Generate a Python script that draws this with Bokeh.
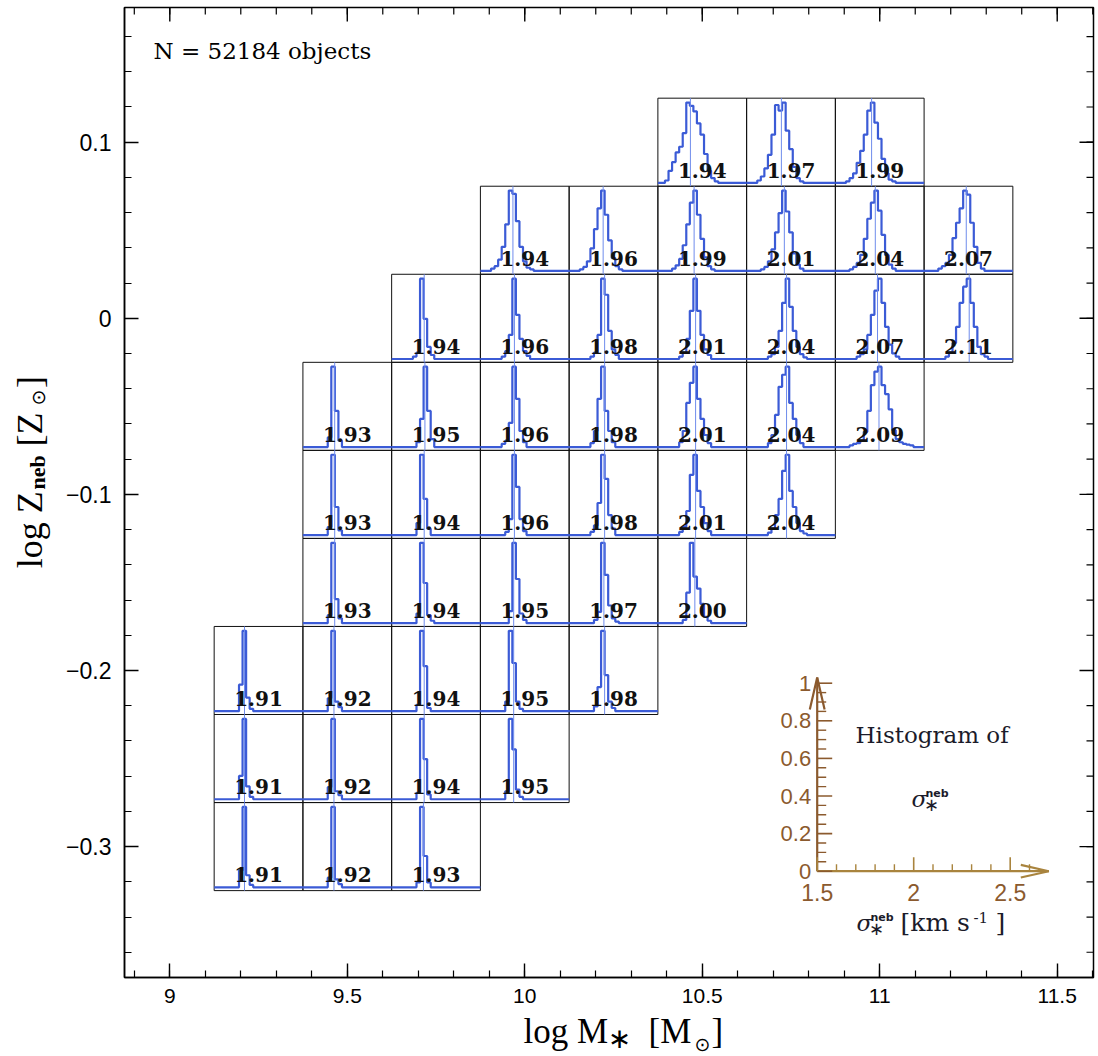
import numpy as np
from bokeh.plotting import figure
from bokeh.layouts import column, row
from bokeh.models import Range1d, FixedTicker, Label
from bokeh.embed import file_html
from bokeh.resources import INLINE
from bokeh.core.properties import value

# ---------------------------------------------------------------- data
# cell centres: stellar mass (log M*/Msun) and nebular metallicity (log Z/Zsun)
cell_logm = [
    9.25, 9.50, 9.75,
    9.25, 9.50, 9.75, 10.00,
    9.25, 9.50, 9.75, 10.00, 10.25,
    9.50, 9.75, 10.00, 10.25, 10.50,
    9.50, 9.75, 10.00, 10.25, 10.50, 10.75,
    9.50, 9.75, 10.00, 10.25, 10.50, 10.75, 11.00,
    9.75, 10.00, 10.25, 10.50, 10.75, 11.00, 11.25,
    10.00, 10.25, 10.50, 10.75, 11.00, 11.25,
    10.50, 10.75, 11.00,
]
cell_logz = [
    -0.30, -0.30, -0.30,
    -0.25, -0.25, -0.25, -0.25,
    -0.20, -0.20, -0.20, -0.20, -0.20,
    -0.15, -0.15, -0.15, -0.15, -0.15,
    -0.10, -0.10, -0.10, -0.10, -0.10, -0.10,
    -0.05, -0.05, -0.05, -0.05, -0.05, -0.05, -0.05,
    0.00, 0.00, 0.00, 0.00, 0.00, 0.00, 0.00,
    0.05, 0.05, 0.05, 0.05, 0.05, 0.05,
    0.10, 0.10, 0.10,
]
# median log sigma_*^neb of each cell (printed in the cell)
cell_median = [
    1.91, 1.92, 1.93,
    1.91, 1.92, 1.94, 1.95,
    1.91, 1.92, 1.94, 1.95, 1.98,
    1.93, 1.94, 1.95, 1.97, 2.00,
    1.93, 1.94, 1.96, 1.98, 2.01, 2.04,
    1.93, 1.95, 1.96, 1.98, 2.01, 2.04, 2.09,
    1.94, 1.96, 1.98, 2.01, 2.04, 2.07, 2.11,
    1.94, 1.96, 1.99, 2.01, 2.04, 2.07,
    1.94, 1.97, 1.99,
]
# histograms of log sigma (25 bins between 1.5 and 2.7), peak-normalised:
# index of first non-empty bin, then the bin heights
hist_first_bin = [
    7, 7, 7,
    7, 7, 7, 7,
    7, 7, 7, 7, 7,
    7, 7, 8, 7, 7,
    7, 7, 7, 6, 6, 6,
    7, 7, 6, 6, 6, 6, 4,
    6, 6, 6, 6, 6, 6, 6,
    3, 3, 4, 4, 4, 4,
    2, 3, 3,
]
hist_heights = [
    [0.21, 1.00, 0.15, 0.03],
    [0.12, 1.00, 0.10, 0.04],
    [0.06, 1.00, 0.39, 0.06],
    [0.29, 1.00, 0.16, 0.03],
    [0.15, 1.00, 0.10, 0.05],
    [0.08, 1.00, 0.50, 0.06],
    [0.10, 1.00, 0.62, 0.12, 0.03],
    [0.33, 1.00, 0.17, 0.03],
    [0.16, 1.00, 0.12, 0.05],
    [0.08, 1.00, 0.56, 0.04],
    [0.12, 1.00, 0.60, 0.12, 0.03],
    [0.06, 0.30, 1.00, 0.45, 0.12, 0.04],
    [0.10, 1.00, 0.30, 0.06],
    [0.12, 1.00, 0.50, 0.10, 0.03],
    [0.15, 1.00, 0.55, 0.12, 0.04],
    [0.04, 0.14, 1.00, 0.60, 0.22, 0.06, 0.02],
    [0.04, 0.38, 1.00, 0.58, 0.43, 0.24, 0.08, 0.03],
    [0.10, 1.00, 0.35, 0.06],
    [0.15, 1.00, 0.45, 0.08],
    [0.04, 0.20, 1.00, 0.60, 0.20, 0.05],
    [0.04, 0.12, 0.40, 1.00, 0.70, 0.25, 0.08],
    [0.04, 0.10, 0.30, 0.75, 1.00, 0.55, 0.35, 0.15, 0.05],
    [0.03, 0.08, 0.25, 0.45, 0.80, 1.00, 0.55, 0.35, 0.15, 0.05, 0.02],
    [0.12, 1.00, 0.45, 0.08],
    [0.06, 0.35, 1.00, 0.45, 0.10],
    [0.04, 0.08, 0.30, 1.00, 0.60, 0.20, 0.06],
    [0.05, 0.20, 0.60, 1.00, 0.45, 0.20, 0.06],
    [0.06, 0.20, 0.55, 0.80, 1.00, 0.60, 0.35, 0.15, 0.05],
    [0.05, 0.15, 0.40, 0.75, 0.90, 1.00, 0.55, 0.35, 0.15, 0.05],
    [0.02, 0.04, 0.05, 0.08, 0.19, 0.45, 0.77, 0.94, 1.00, 0.77, 0.66, 0.47, 0.21, 0.10, 0.06, 0.04, 0.03, 0.02],
    [0.03, 0.08, 1.00, 0.50, 0.15, 0.05],
    [0.03, 0.10, 0.30, 1.00, 0.55, 0.25, 0.10, 0.04],
    [0.03, 0.08, 0.30, 1.00, 0.80, 0.35, 0.12, 0.05],
    [0.03, 0.08, 0.25, 0.60, 1.00, 0.60, 0.30, 0.12, 0.05],
    [0.03, 0.06, 0.15, 0.35, 0.70, 1.00, 0.65, 0.35, 0.15, 0.06, 0.02],
    [0.03, 0.06, 0.12, 0.30, 0.55, 0.85, 1.00, 0.70, 0.40, 0.18, 0.07, 0.03],
    [0.03, 0.08, 0.20, 0.40, 0.70, 0.90, 1.00, 0.70, 0.40, 0.15, 0.06, 0.03],
    [0.03, 0.06, 0.14, 0.30, 0.58, 1.00, 0.96, 0.62, 0.30, 0.12, 0.04, 0.02],
    [0.02, 0.05, 0.12, 0.28, 0.52, 0.78, 1.00, 0.70, 0.38, 0.16, 0.06, 0.02],
    [0.03, 0.07, 0.15, 0.32, 0.58, 0.85, 1.00, 0.70, 0.40, 0.17, 0.06, 0.02],
    [0.02, 0.05, 0.12, 0.27, 0.48, 0.72, 1.00, 0.74, 0.48, 0.22, 0.08, 0.03],
    [0.02, 0.05, 0.10, 0.20, 0.40, 0.65, 0.85, 1.00, 0.75, 0.45, 0.20, 0.08, 0.03],
    [0.03, 0.06, 0.10, 0.20, 0.41, 0.60, 0.78, 1.00, 0.95, 0.60, 0.30, 0.10, 0.03],
    [0.03, 0.15, 0.26, 0.38, 0.45, 0.62, 1.00, 0.96, 0.89, 0.74, 0.60, 0.36, 0.15, 0.06, 0.02],
    [0.03, 0.08, 0.18, 0.35, 0.60, 0.97, 0.90, 1.00, 0.65, 0.42, 0.20, 0.06, 0.02],
    [0.02, 0.06, 0.12, 0.25, 0.40, 0.60, 0.90, 1.00, 0.75, 0.55, 0.30, 0.12, 0.04, 0.02],
]
SIG_MIN, SIG_MAX, N_BINS = 1.5, 2.7, 25
N_OBJECTS = 52184

x_major = [9.0, 9.5, 10.0, 10.5, 11.0, 11.5]
x_major_labels = ["9", "9.5", "10", "10.5", "11", "11.5"]
x_minor = [round(8.9 + 0.1 * i, 2) for i in range(28)]
y_major = [-0.3, -0.2, -0.1, 0.0, 0.1]
y_major_labels = ["\u22120.3", "\u22120.2", "\u22120.1", "0", "0.1"]
y_minor = [round(-0.36 + 0.02 * i, 3) for i in range(28)]

inset_y_major = [0.0, 0.2, 0.4, 0.6, 0.8, 1.0]
inset_y_labels = ["0", "0.2", "0.4", "0.6", "0.8", "1"]
inset_y_minor = [round(0.05 * i, 2) for i in range(21) if i % 4 != 0]
inset_x_major = [1.5, 2.0, 2.5]
inset_x_labels = ["1.5", "2", "2.5"]
inset_x_minor = [round(1.5 + 0.1 * i, 2) for i in range(12) if i % 5 != 0]

# ---------------------------------------------------------------- layout (page pixels)
TOTAL_W, TOTAL_H = 1097, 1055
LEFT_W = 52                      # strip holding the rotated y title
MAIN_W, MAIN_H = TOTAL_W - LEFT_W, 1012
FRAME_L, FRAME_R, FRAME_T, FRAME_B = 124.0, 1093.0, 7.0, 977.0

X_LO, X_HI = 8.8724, 11.6022
Y_LO, Y_HI = -0.37434, 0.17649
PXX = (FRAME_R - FRAME_L) / (X_HI - X_LO)
PXY = (FRAME_B - FRAME_T) / (Y_HI - Y_LO)
MID = 0.34                       # text box middle above baseline, in em


def X(px):
    return X_LO + (px - FRAME_L) / PXX


def Y(py):
    return Y_HI - (py - FRAME_T) / PXY


CELL_W, CELL_H = 0.25, 0.05
BASE_F, PEAK_F = 0.0375, 0.9125      # histogram baseline / height inside a cell

BLUE = "#3b5bd6"
MED_BLUE = "#6f8cec"
BROWN = "#8b5a2e"
GOLD = "#a9843e"
INK = "#1b1b2a"

SERIF = "Liberation Serif"
DSERIF = "DejaVu Serif"
SANS = "Liberation Sans"
DSANS = "DejaVu Sans"

p = figure(width=MAIN_W, height=MAIN_H,
           x_range=Range1d(X_LO, X_HI), y_range=Range1d(Y_LO, Y_HI),
           output_backend="svg", toolbar_location=None,
           min_border_left=int(FRAME_L - LEFT_W), min_border_right=int(TOTAL_W - FRAME_R),
           min_border_top=int(FRAME_T), min_border_bottom=int(MAIN_H - FRAME_B))
p.grid.visible = False
p.outline_line_color = "black"
p.outline_line_width = 1.5
p.background_fill_color = "white"
p.border_fill_color = "white"

p.xaxis.ticker = FixedTicker(ticks=x_major, minor_ticks=x_minor)
p.yaxis.ticker = FixedTicker(ticks=y_major, minor_ticks=y_minor)
for ax in (p.xaxis[0], p.yaxis[0]):
    ax.axis_line_color = "black"
    ax.axis_line_width = 1.5
    ax.major_tick_in = 14
    ax.major_tick_out = 0
    ax.minor_tick_in = 7
    ax.minor_tick_out = 0
    ax.major_tick_line_color = "black"
    ax.major_tick_line_width = 1.4
    ax.minor_tick_line_color = "black"
    ax.minor_tick_line_width = 1.2
    ax.major_label_text_font = SANS
    ax.major_label_text_color = "black"
p.xaxis.major_label_text_font_size = "21px"
p.yaxis.major_label_text_font_size = "23px"
p.xaxis.major_label_overrides = dict(zip(x_major, x_major_labels))
p.yaxis.major_label_overrides = dict(zip(y_major, y_major_labels))
p.xaxis.major_label_standoff = 11
p.yaxis.major_label_standoff = 13

# mirrored ticks on the top and right frame edges
p.segment(x0=x_major, y0=[Y_HI] * len(x_major), x1=x_major,
          y1=[Y_HI - 14 / PXY] * len(x_major), line_color="black", line_width=1.4)
p.segment(x0=x_minor, y0=[Y_HI] * len(x_minor), x1=x_minor,
          y1=[Y_HI - 7 / PXY] * len(x_minor), line_color="black", line_width=1.2)
p.segment(x0=[X_HI] * len(y_major), y0=y_major, x1=[X_HI - 14 / PXX] * len(y_major),
          y1=y_major, line_color="black", line_width=1.4)
p.segment(x0=[X_HI] * len(y_minor), y0=y_minor, x1=[X_HI - 7 / PXX] * len(y_minor),
          y1=y_minor, line_color="black", line_width=1.2)

# ---------------------------------------------------------------- cells
edges = np.linspace(SIG_MIN, SIG_MAX, N_BINS + 1)
xs_all, ys_all = [], []
for cx, cy, k0, hv in zip(cell_logm, cell_logz, hist_first_bin, hist_heights):
    h = np.zeros(N_BINS)
    h[k0:k0 + len(hv)] = hv
    ex = cx - CELL_W / 2 + (edges - SIG_MIN) / (SIG_MAX - SIG_MIN) * CELL_W
    px = np.repeat(ex, 2)[1:-1]
    py = np.repeat(h, 2)
    xs_all.append(list(px))
    ys_all.append(list(cy - CELL_H / 2 + CELL_H * (BASE_F + PEAK_F * py)))

p.rect(x=cell_logm, y=cell_logz, width=CELL_W, height=CELL_H,
       fill_alpha=0, line_color="#111111", line_width=1)
p.multi_line(xs_all, ys_all, line_color=BLUE, line_width=2.2)

med_x = [cx - CELL_W / 2 + (m - SIG_MIN) / (SIG_MAX - SIG_MIN) * CELL_W
         for cx, m in zip(cell_logm, cell_median)]
p.segment(x0=med_x, y0=[cy - CELL_H / 2 for cy in cell_logz],
          x1=med_x, y1=[cy + CELL_H / 2 for cy in cell_logz],
          line_color=MED_BLUE, line_width=1)

NUM_FS = 20
p.text(x=cell_logm, y=[cy - CELL_H / 2 + (9 + MID * NUM_FS) / PXY for cy in cell_logz],
       text=["%.2f" % m for m in cell_median],
       text_font=value(DSERIF), text_font_style="bold", text_font_size="%dpx" % NUM_FS,
       text_align="center", text_baseline="middle", text_color="#111111")

# ---------------------------------------------------------------- inset key
INSET_X0, INSET_Y0 = X(816.7), Y(870.7)
INSET_SX = 193 / PXX
INSET_SY = 188 / PXY


def ix(s):
    return INSET_X0 + (s - SIG_MIN) * INSET_SX


def iy(v):
    return INSET_Y0 + v * INSET_SY


ax0, ay0 = ix(SIG_MIN), iy(0.0)
ytip, xtip = iy(1.03), ix(SIG_MAX)
p.line([ax0, ax0], [ay0, ytip], line_color=BROWN, line_width=2.2)
p.line([ax0, xtip], [ay0, ay0], line_color=GOLD, line_width=2.2)
p.multi_line([[ax0 - 7.4 / PXX, ax0, ax0 + 7.4 / PXX]],
             [[ytip - 32 / PXY, ytip, ytip - 32 / PXY]], line_color=BROWN, line_width=2.2)
p.multi_line([[xtip - 28 / PXX, xtip, xtip - 28 / PXX]],
             [[ay0 + 6.3 / PXY, ay0, ay0 - 6.3 / PXY]], line_color=GOLD, line_width=2.2)

p.segment(x0=[ax0] * len(inset_y_major), y0=[iy(v) for v in inset_y_major],
          x1=[ax0 + 15 / PXX] * len(inset_y_major), y1=[iy(v) for v in inset_y_major],
          line_color=BROWN, line_width=1.6)
p.segment(x0=[ax0] * len(inset_y_minor), y0=[iy(v) for v in inset_y_minor],
          x1=[ax0 + 9 / PXX] * len(inset_y_minor), y1=[iy(v) for v in inset_y_minor],
          line_color=BROWN, line_width=1.4)
p.segment(x0=[ix(s) for s in inset_x_major], y0=[ay0] * len(inset_x_major),
          x1=[ix(s) for s in inset_x_major], y1=[ay0 + 14 / PXY] * len(inset_x_major),
          line_color=GOLD, line_width=1.6)
p.segment(x0=[ix(s) for s in inset_x_minor], y0=[ay0] * len(inset_x_minor),
          x1=[ix(s) for s in inset_x_minor], y1=[ay0 + 7 / PXY] * len(inset_x_minor),
          line_color=GOLD, line_width=1.4)

p.text(x=[ax0 - 6 / PXX] * len(inset_y_major), y=[iy(v) for v in inset_y_major],
       text=inset_y_labels, text_font=value(SANS), text_font_size="22px",
       text_color=BROWN, text_align="right", text_baseline="middle")
p.text(x=[ix(s) for s in inset_x_major], y=[ay0 - 13 / PXY] * len(inset_x_major),
       text=inset_x_labels, text_font=value(SANS), text_font_size="23px",
       text_color=BROWN, text_align="center", text_baseline="top")


def lab(px, base_py, text, size, font=SERIF, style="normal", color=INK, align="left"):
    """label whose baseline sits at page pixel base_py"""
    p.add_layout(Label(x=X(px), y=Y(base_py - MID * size), text=text, text_font=font,
                       text_font_size="%dpx" % size, text_font_style=style,
                       text_color=color, text_align=align, text_baseline="middle"))


def sym(px, py, text, size, color=INK):
    """symbol centred on page pixel (px, py)"""
    p.add_layout(Label(x=X(px), y=Y(py), text=text, text_font=DSANS,
                       text_font_size="%dpx" % size, text_color=color,
                       text_align="center", text_baseline="middle"))


lab(855, 742, "Histogram of", 23, font=DSERIF)
lab(911, 806, "\u03c3", 23, font=DSERIF, style="italic")
lab(925, 797, "neb", 11, font=DSANS, style="bold")
sym(931, 804, "\u2217", 18)
lab(856, 930, "\u03c3", 23, font=DSERIF, style="italic")
lab(870, 921, "neb", 11, font=DSANS, style="bold")
sym(876, 928, "\u2217", 18)
lab(900, 930, "[km s", 25, font=DSERIF)
lab(973, 922, "-1", 15, font=DSERIF)
lab(995, 930, "]", 25, font=DSERIF)

lab(153, 58, "N = %d objects" % N_OBJECTS, 23, font=DSERIF, color="black")

# ---------------------------------------------------------------- axis titles
def strip(w, h, x0, y0):
    f = figure(width=w, height=h, x_range=Range1d(x0, x0 + w),
               y_range=Range1d(y0 + h, y0),              # y grows downward = page pixels
               x_axis_type=None, y_axis_type=None, min_border=0,
               output_backend="svg", toolbar_location=None)
    f.outline_line_color = None
    f.grid.visible = False
    return f


pl = strip(LEFT_W, MAIN_H, 0, 0)
pb = strip(TOTAL_W, TOTAL_H - MAIN_H, 0, MAIN_H)

TFS = 35          # title font size


def xtitle(px, base, text, size=TFS, font=SERIF, align="left"):
    pb.text(x=[px], y=[base - MID * size], text=[text], text_font=value(font),
            text_font_size="%dpx" % size, text_color="black",
            text_align=align, text_baseline="middle")


xtitle(523, 1043, "log M")
pb.text(x=[619], y=[1038], text=["\u2217"], text_font=value(DSANS), text_font_size="28px",
        text_color="black", text_align="center", text_baseline="middle")
xtitle(648, 1043, "[M")
pb.text(x=[702], y=[1043], text=["\u2299"], text_font=value(DSANS), text_font_size="19px",
        text_color="black", text_align="center", text_baseline="middle")
xtitle(711, 1043, "]")

R = np.pi / 2


def ytitle(base_x, py, text, size=36, style="normal"):
    pl.text(x=[base_x - MID * size], y=[py], text=[text], angle=R, text_font=value(SERIF),
            text_font_style=style, text_font_size="%dpx" % size, text_color="black",
            text_align="left", text_baseline="middle")


ytitle(42, 585, "log Z")
pl.text(x=[37], y=[485], text=["neb"], angle=R, text_font=value(SERIF),
        text_font_style="bold", text_font_size="22px", text_color="black",
        text_align="center", text_baseline="middle")
ytitle(42, 458, "[Z")
pl.text(x=[37], y=[407], text=["\u2299"], angle=R, text_font=value(DSANS),
        text_font_size="19px", text_color="black", text_align="center",
        text_baseline="middle")
ytitle(42, 397, "]")

layout = column(row(pl, p), pb)
open("out.html", "w").write(file_html(layout, INLINE))
